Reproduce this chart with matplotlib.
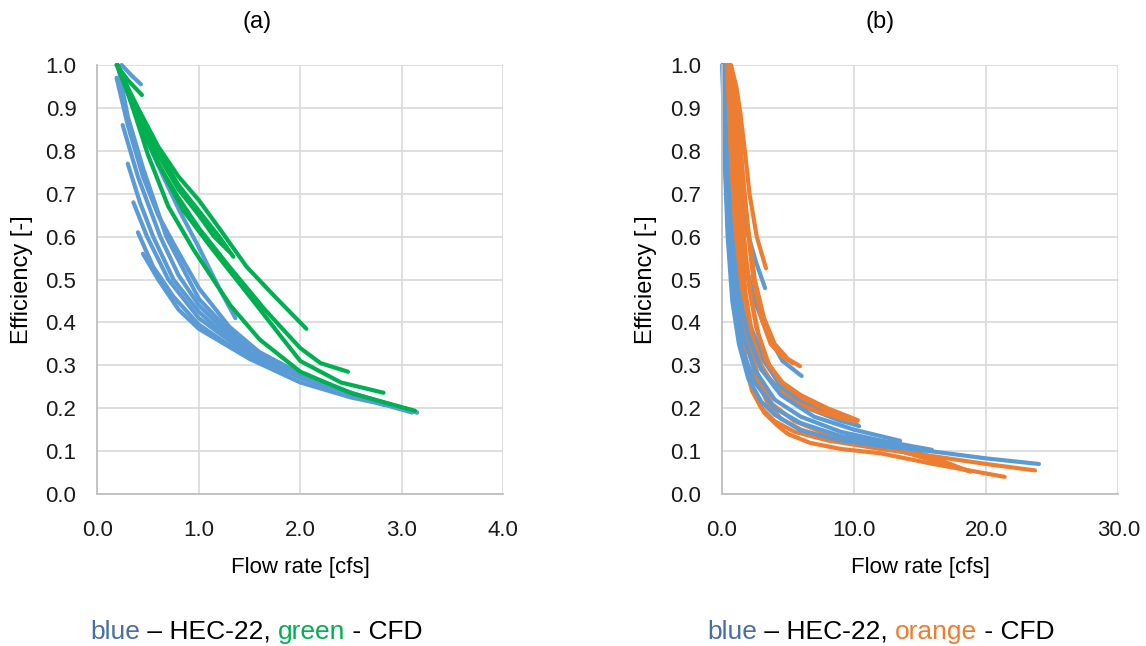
import matplotlib.pyplot as plt

plt.rcParams["font.family"] = ["Liberation Sans", "DejaVu Sans"]

BLUE = "#5B9BD5"
GREEN = "#00B050"
ORANGE = "#ED7D31"

# -----------------------------
# (a) HEC-22 (blue) vs CFD (green)
# -----------------------------
a_blue_q = [
    [0.19, 0.30, 0.45, 0.60, 0.76, 1.00, 1.30, 1.60, 2.00, 2.50, 3.15],
    [0.21, 0.30, 0.45, 0.68, 1.00, 1.30, 1.60, 2.00, 2.40, 2.83],
    [0.25, 0.40, 0.62, 0.80, 1.00, 1.30, 1.60, 2.00, 2.49],
    [0.30, 0.42, 0.55, 0.75, 1.00, 1.30, 1.60, 2.08],
    [0.355, 0.49, 0.70, 1.00, 1.40, 1.80, 2.30, 2.80, 3.15],
    [0.40, 0.55, 0.75, 1.00, 1.40, 1.80, 2.30, 2.80, 3.10],
    [0.45, 0.60, 0.80, 1.00, 1.50, 2.00, 2.50, 3.00],
    [0.22, 0.40, 0.65, 0.81, 1.00, 1.20, 1.36],
    [0.24, 0.34, 0.43],
]
a_blue_e = [
    [0.97, 0.86, 0.74, 0.65, 0.58, 0.48, 0.39, 0.33, 0.28, 0.235, 0.19],
    [0.99, 0.88, 0.76, 0.60, 0.455, 0.38, 0.33, 0.28, 0.245, 0.207],
    [0.86, 0.74, 0.60, 0.51, 0.44, 0.37, 0.32, 0.27, 0.235],
    [0.77, 0.68, 0.60, 0.50, 0.425, 0.36, 0.315, 0.277],
    [0.68, 0.60, 0.50, 0.41, 0.34, 0.295, 0.25, 0.215, 0.19],
    [0.61, 0.53, 0.46, 0.395, 0.33, 0.29, 0.245, 0.21, 0.19],
    [0.56, 0.50, 0.43, 0.385, 0.315, 0.26, 0.225, 0.20],
    [0.99, 0.87, 0.74, 0.66, 0.575, 0.48, 0.41],
    [1.00, 0.975, 0.955],
]
a_green_q = [
    [0.19, 0.40, 0.60, 0.80, 1.00, 1.20, 1.47, 1.75, 2.06],
    [0.20, 0.40, 0.60, 0.80, 1.00, 1.20, 1.34],
    [0.21, 0.40, 0.60, 0.80, 1.00, 1.15, 1.30],
    [0.19, 0.30, 0.44],
    [0.20, 0.35, 0.50, 0.70, 0.95, 1.31, 1.60, 2.00, 2.50, 3.13],
    [0.20, 0.40, 0.60, 0.85, 1.14, 1.57, 1.80, 2.00, 2.40, 2.82],
    [0.45, 0.60, 0.80, 1.00, 1.30, 1.65, 2.00, 2.20, 2.47],
]
a_green_e = [
    [1.00, 0.90, 0.81, 0.74, 0.685, 0.62, 0.53, 0.46, 0.385],
    [1.00, 0.89, 0.80, 0.72, 0.66, 0.60, 0.553],
    [0.99, 0.88, 0.79, 0.71, 0.65, 0.60, 0.565],
    [1.00, 0.965, 0.93],
    [1.00, 0.90, 0.79, 0.67, 0.569, 0.44, 0.36, 0.285, 0.235, 0.194],
    [1.00, 0.89, 0.77, 0.66, 0.569, 0.44, 0.37, 0.31, 0.26, 0.236],
    [0.845, 0.77, 0.69, 0.62, 0.53, 0.43, 0.34, 0.305, 0.285],
]

# -----------------------------
# (b) HEC-22 (blue) vs CFD (orange)
# -----------------------------
# upper blue curves sit under the orange ones, lower ones on top
b_blue_back_q = [
    [0.12, 0.40, 0.80, 1.40, 2.20, 3.20, 4.50, 6.50, 8.50, 10.4],
    [0.15, 0.50, 1.00, 1.70, 2.50, 3.50, 4.60, 6.05],
    [0.20, 0.60, 1.20, 1.90, 2.60, 3.28],
    [0.10, 0.40, 0.80, 1.30, 2.00, 3.00, 4.50, 6.50, 9.00, 10.3],
]
b_blue_back_e = [
    [1.00, 0.82, 0.65, 0.50, 0.39, 0.31, 0.25, 0.21, 0.18, 0.158],
    [1.00, 0.85, 0.70, 0.55, 0.45, 0.37, 0.31, 0.275],
    [1.00, 0.90, 0.76, 0.615, 0.54, 0.48],
    [1.00, 0.78, 0.60, 0.46, 0.36, 0.29, 0.24, 0.20, 0.17, 0.16],
]
b_blue_front_q = [
    [0.05, 0.20, 0.45, 0.80, 1.30, 2.00, 3.00, 4.00, 6.00, 9.00, 12.0, 16.0, 20.0, 24.0],
    [0.08, 0.30, 0.60, 1.00, 1.60, 2.50, 4.00, 6.00, 9.00, 12.0, 15.9],
    [0.10, 0.35, 0.70, 1.20, 2.00, 3.00, 4.50, 7.00, 10.0, 13.5],
    [0.06, 0.25, 0.50, 0.90, 1.50, 2.50, 4.00, 6.00, 9.00, 13.3],
]
b_blue_front_e = [
    [1.00, 0.80, 0.60, 0.45, 0.35, 0.27, 0.215, 0.185, 0.148, 0.125, 0.112, 0.099, 0.083, 0.07],
    [1.00, 0.80, 0.60, 0.47, 0.37, 0.29, 0.22, 0.18, 0.145, 0.125, 0.103],
    [1.00, 0.80, 0.62, 0.48, 0.37, 0.29, 0.23, 0.18, 0.15, 0.124],
    [1.00, 0.78, 0.60, 0.45, 0.34, 0.26, 0.20, 0.165, 0.135, 0.115],
]
b_orange_q = [
    [0.70, 1.10, 1.40, 1.75, 2.10, 2.65, 3.35],
    [0.60, 1.00, 1.30, 1.60, 2.00, 2.50, 3.20, 4.00, 5.00, 5.92],
    [0.50, 0.90, 1.20, 1.60, 2.00, 2.60, 3.40, 4.50, 6.00, 8.00, 10.2],
    [0.45, 0.85, 1.10, 1.40, 1.80, 2.30, 3.00, 4.00, 5.50, 7.50, 9.60],
    [0.40, 0.75, 1.00, 1.30, 1.65, 2.10, 2.80, 3.80, 5.50, 7.50, 10.0, 13.5, 16.0, 18.8],
    [0.35, 0.65, 0.85, 1.05, 1.35, 1.80, 2.40, 3.20, 4.20, 5.00, 6.70, 9.00, 12.0, 16.0, 21.4],
    [0.30, 0.60, 0.80, 1.00, 1.30, 1.70, 2.30, 3.00, 4.00, 5.50, 8.00, 12.0, 16.0, 20.0, 23.7],
    [0.40, 0.70, 0.95, 1.20, 1.50, 2.00, 2.60, 3.50, 4.50, 6.00, 8.00, 10.0, 13.5, 18.6],
    [0.50, 0.85, 1.15, 1.45, 1.80, 2.20, 2.80, 3.60, 4.60, 6.00, 8.00, 10.3],
    [0.55, 0.95, 1.25, 1.55, 1.95, 2.40, 3.00, 3.70, 4.60, 5.40],
]
b_orange_e = [
    [1.00, 0.95, 0.89, 0.80, 0.70, 0.60, 0.526],
    [1.00, 0.95, 0.85, 0.74, 0.62, 0.50, 0.41, 0.35, 0.315, 0.298],
    [1.00, 0.92, 0.78, 0.62, 0.50, 0.39, 0.31, 0.26, 0.225, 0.195, 0.168],
    [1.00, 0.90, 0.75, 0.60, 0.47, 0.37, 0.30, 0.25, 0.215, 0.19, 0.172],
    [1.00, 0.88, 0.72, 0.57, 0.45, 0.35, 0.27, 0.21, 0.17, 0.145, 0.125, 0.11, 0.085, 0.052],
    [1.00, 0.87, 0.70, 0.55, 0.42, 0.32, 0.24, 0.19, 0.16, 0.14, 0.119, 0.105, 0.095, 0.07, 0.04],
    [1.00, 0.85, 0.68, 0.53, 0.40, 0.31, 0.24, 0.20, 0.17, 0.145, 0.125, 0.105, 0.088, 0.07, 0.055],
    [1.00, 0.90, 0.72, 0.56, 0.44, 0.34, 0.27, 0.21, 0.175, 0.15, 0.13, 0.118, 0.10, 0.055],
    [1.00, 0.93, 0.82, 0.68, 0.56, 0.46, 0.37, 0.30, 0.26, 0.23, 0.20, 0.172],
    [1.00, 0.96, 0.88, 0.76, 0.62, 0.50, 0.41, 0.35, 0.32, 0.305],
]

x_ticks_a = [0.0, 1.0, 2.0, 3.0, 4.0]
x_ticks_b = [0.0, 10.0, 20.0, 30.0]
y_ticks = [i / 10 for i in range(11)]


fig = plt.figure(figsize=(11.46, 6.46), dpi=100)
ax1 = fig.add_axes([97.3 / 1146, 152 / 646, 406 / 1146, 429 / 646])
ax2 = fig.add_axes([721.7 / 1146, 152 / 646, 396.6 / 1146, 429 / 646])


def style_axis(ax, xticks):
    ax.set_xlim(xticks[0], xticks[-1])
    ax.set_ylim(0, 1)
    ax.set_xticks(xticks)
    ax.set_xticklabels([f"{t:.1f}" for t in xticks])
    ax.set_yticks(y_ticks)
    ax.set_yticklabels([f"{t:.1f}" for t in y_ticks])
    ax.grid(True, color="#D9D9D9", linewidth=1.2, zorder=0)
    ax.set_axisbelow(True)
    for side in ["top", "right"]:
        ax.spines[side].set_visible(False)
    for side in ["left", "bottom"]:
        ax.spines[side].set_color("#BFBFBF")
        ax.spines[side].set_linewidth(1.3)
    ax.tick_params(length=0, labelsize=16, colors="#1a1a1a")
    ax.tick_params(axis="x", pad=18.5)
    ax.tick_params(axis="y", pad=15)
    ax.set_xlabel("Flow rate [cfs]", fontsize=16, labelpad=12)
    ax.set_ylabel("Efficiency [-]", fontsize=17, labelpad=9)


line_kw = dict(linewidth=3, solid_capstyle="round", solid_joinstyle="round", clip_on=False)

for q, e in zip(a_blue_q, a_blue_e):
    ax1.plot(q, e, color=BLUE, **line_kw)
for q, e in zip(a_green_q, a_green_e):
    ax1.plot(q, e, color=GREEN, **line_kw)

for q, e in zip(b_blue_back_q, b_blue_back_e):
    ax2.plot(q, e, color=BLUE, **line_kw)
for q, e in zip(b_orange_q, b_orange_e):
    ax2.plot(q, e, color=ORANGE, **line_kw)
for q, e in zip(b_blue_front_q, b_blue_front_e):
    ax2.plot(q, e, color=BLUE, **line_kw)

style_axis(ax1, x_ticks_a)
style_axis(ax2, x_ticks_b)

fig.text(257 / 1146, 1 - 22 / 646, "(a)", fontsize=17, ha="center", va="center")
fig.text(880 / 1146, 1 - 22 / 646, "(b)", fontsize=17, ha="center", va="center")


def rainbow(x, parts):
    prev = None
    for s, c in parts:
        if prev is None:
            prev = fig.text(x, 1 - 632 / 646, s, color=c, fontsize=19,
                            ha="left", va="center")
        else:
            prev = ax1.annotate(s, xy=(1, 0.5), xycoords=prev, xytext=(0, 0),
                                textcoords="offset points", color=c, fontsize=19,
                                ha="left", va="center", annotation_clip=False)


rainbow(90 / 1146, [("blue", "#4A6FA5"), (" \u2013 HEC-22, ", "black"),
                    ("green", GREEN), (" - CFD", "black")])
rainbow(707 / 1146, [("blue", "#4A6FA5"), (" \u2013 HEC-22, ", "black"),
                     ("orange", ORANGE), (" - CFD", "black")])

fig.savefig("out.png", dpi=100)
